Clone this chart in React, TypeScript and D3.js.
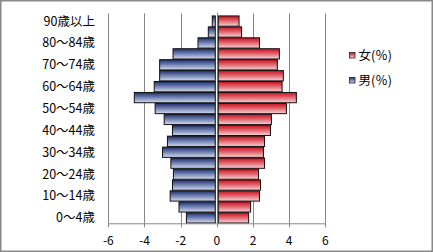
import React from "react";
import * as d3 from "d3";

const categories = [
  "0～4歳", "5～9歳", "10～14歳", "15～19歳", "20～24歳", "25～29歳", "30～34歳",
  "35～39歳", "40～44歳", "45～49歳", "50～54歳", "55～59歳", "60～64歳", "65～69歳",
  "70～74歳", "75～79歳", "80～84歳", "85～89歳", "90歳以上",
];
const male = [1.68, 2.09, 2.58, 2.45, 2.40, 2.54, 3.0, 2.73, 2.45, 2.91, 3.41, 4.56, 3.46, 3.16, 3.16, 2.42, 1.04, 0.47, 0.25];
const female = [1.76, 1.87, 2.36, 2.42, 2.31, 2.64, 2.58, 2.64, 2.97, 3.02, 3.85, 4.40, 3.61, 3.68, 3.35, 3.46, 2.36, 1.37, 1.23];
const xTicks = [-6, -4, -2, 0, 2, 4, 6];
const legendItems = [
  { key: "female", label: "女(％)" },
  { key: "male", label: "男(％)" },
];

const W = 433;
const H = 252;
const FONT = "'Noto Sans CJK JP', 'Noto Sans', sans-serif";

export default function App() {
  const x = d3.scaleLinear().domain([-6, 6]).range([108.3, 325.3]);
  const y = d3
    .scaleBand<string>()
    .domain([...categories].reverse())
    .range([15.6, 223.3])
    .paddingInner(0.06)
    .paddingOuter(0.03);
  const plotTop = 13.3;
  const plotBottom = 223.3;
  const x0 = x(0);

  return (
    <div style={{ position: "fixed", left: 0, top: 0 }}>
      <svg width={W} height={H} style={{ display: "block" }}>
        <defs>
          <linearGradient id="gBlue" x1="0" y1="0" x2="0" y2="1">
            <stop offset="0" stopColor="#1b2d66" />
            <stop offset="0.45" stopColor="#6a7cae" />
            <stop offset="1" stopColor="#d6dcee" />
          </linearGradient>
          <linearGradient id="gRed" x1="0" y1="0" x2="0" y2="1">
            <stop offset="0" stopColor="#c8101c" />
            <stop offset="0.45" stopColor="#e0606a" />
            <stop offset="1" stopColor="#f6d4d8" />
          </linearGradient>
        </defs>
        <rect x={0} y={0} width={W} height={H} fill="#fff" />
        <rect x={0.75} y={0.75} width={W - 1.5} height={H - 1.5} fill="none" stroke="#888" strokeWidth={1.5} />

        {/* gridlines */}
        {xTicks.map((t) => (
          <line
            key={"g" + t}
            x1={Math.round(x(t)) + 0.5}
            x2={Math.round(x(t)) + 0.5}
            y1={plotTop}
            y2={plotBottom}
            stroke="#878787"
            strokeWidth={1}
          />
        ))}

        {/* bars */}
        {categories.map((c, i) => {
          const yy = y(c)!;
          const h = y.bandwidth();
          return (
            <g key={c}>
              <rect
                x={x(-male[i])}
                y={yy}
                width={x0 - 1.5 - x(-male[i])}
                height={h}
                fill="url(#gBlue)"
                stroke="#111"
                strokeWidth={1}
              />
              <rect
                x={x0 + 1.5}
                y={yy}
                width={x(female[i]) - x0 - 1.5}
                height={h}
                fill="url(#gRed)"
                stroke="#111"
                strokeWidth={1}
              />
            </g>
          );
        })}

        {/* zero axis */}
        <line x1={Math.round(x0) + 0.5} x2={Math.round(x0) + 0.5} y1={plotTop} y2={plotBottom} stroke="#7a7a7a" strokeWidth={1} />

        {/* bottom axis */}
        <line x1={x(-6)} x2={x(6) + 0.5} y1={plotBottom + 0.5} y2={plotBottom + 0.5} stroke="#878787" strokeWidth={1} />
        {xTicks.map((t) => (
          <g key={"t" + t}>
            <line
              x1={Math.round(x(t)) + 0.5}
              x2={Math.round(x(t)) + 0.5}
              y1={plotBottom}
              y2={plotBottom + 4}
              stroke="#878787"
            />
            <text x={x(t)} y={245} textAnchor="middle" fontFamily={FONT} fontSize={12} fill="#000">
              {t}
            </text>
          </g>
        ))}

        {/* category labels, every other */}
        {categories.map((c, i) =>
          i % 2 === 0 ? (
            <text
              key={"l" + c}
              x={95}
              y={y(c)! + y.bandwidth() / 2 + 4.5}
              textAnchor="end"
              fontFamily={FONT}
              fontSize={12.5}
              fill="#000"
            >
              {c}
            </text>
          ) : null
        )}

        {/* legend */}
        {legendItems.map((it, i) => {
          const cy = 55 + i * 25;
          return (
            <g key={it.key}>
              <rect
                x={349.5}
                y={cy - 2.5}
                width={5.5}
                height={5.5}
                fill={it.key === "female" ? "url(#gRed)" : "url(#gBlue)"}
                stroke="#222"
                strokeWidth={0.8}
              />
              <text x={358.5} y={cy + 4.5} fontFamily={FONT} fontSize={12.5} fill="#000">
                {it.label}
              </text>
            </g>
          );
        })}
      </svg>
    </div>
  );
}
